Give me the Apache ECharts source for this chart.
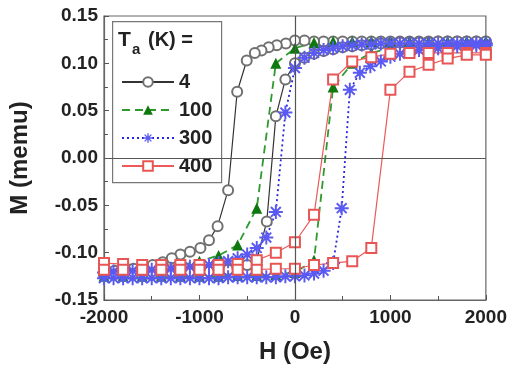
<!DOCTYPE html>
<html>
<head>
<meta charset="utf-8">
<script src="https://cdn.jsdelivr.net/npm/echarts@6/dist/echarts.min.js"></script>
<style>
  html, body { margin: 0; padding: 0; background: #fff; }
  #chart { width: 510px; height: 369px; }
</style>
</head>
<body>
<div id="chart"></div>
<script>
// field values (Oe) and moments (memu), each loop = down branch then up branch
let h4Down = [2000, 1900, 1800, 1700, 1600, 1500, 1400, 1300, 1200, 1100, 1000, 900, 800, 700, 600, 500, 400, 300, 200, 100,
  0, -95, -190, -275, -350, -420, -505, -605, -700, -810, -900, -990, -1100, -1200, -1290, -1385, -1490, -1590, -1690, -1790, -1890, -2000];
let m4Down = [0.123, 0.123, 0.123, 0.123, 0.123, 0.123, 0.123, 0.123, 0.123, 0.123, 0.123, 0.123, 0.123, 0.123, 0.123, 0.123, 0.123, 0.123, 0.123, 0.124,
  0.124, 0.121, 0.119, 0.117, 0.1135, 0.111, 0.103, 0.070, -0.034, -0.072, -0.087, -0.095, -0.099, -0.102, -0.106, -0.110, -0.113, -0.115, -0.117, -0.118, -0.119, -0.120];
let h4Up = [-2000, -1900, -1800, -1700, -1600, -1500, -1400, -1300, -1200, -1100, -1000, -900, -800, -700, -600, -500, -400,
  -295, -200, -100, 0, 100, 200, 300, 400, 500, 600, 700, 800, 900, 1000, 1100, 1200, 1300, 1400, 1500, 1600, 1700, 1800, 1900, 2000];
let m4Up = [-0.123, -0.123, -0.123, -0.123, -0.123, -0.123, -0.122, -0.122, -0.122, -0.121, -0.121, -0.120, -0.119, -0.118, -0.116, -0.113, -0.108,
  -0.067, 0.044, 0.083, 0.100, 0.106, 0.110, 0.113, 0.115, 0.117, 0.118, 0.119, 0.120, 0.121, 0.121, 0.122, 0.122, 0.122, 0.122, 0.123, 0.123, 0.123, 0.123, 0.123, 0.123];

let h100Down = [2000, 1800, 1600, 1400, 1200, 1000, 800, 600, 400, 200, 0, -200, -400, -600, -800, -1000, -1200, -1400, -1600, -1800, -2000];
let m100Down = [0.123, 0.123, 0.123, 0.123, 0.123, 0.123, 0.123, 0.123, 0.123, 0.122, 0.116, 0.100, -0.053, -0.092, -0.103, -0.109, -0.113, -0.116, -0.118, -0.119, -0.120];
let h100Up = [-2000, -1800, -1600, -1400, -1200, -1000, -800, -600, -400, -200, 0, 200, 400, 600, 800, 1000, 1200, 1400, 1600, 1800, 2000];
let m100Up = [-0.125, -0.125, -0.125, -0.125, -0.125, -0.125, -0.125, -0.124, -0.124, -0.123, -0.121, -0.108, 0.075, 0.100, 0.111, 0.116, 0.119, 0.121, 0.122, 0.123, 0.123];

let h300Down = [2000, 1900, 1800, 1700, 1600, 1500, 1400, 1300, 1200, 1100, 1000, 900, 800, 700, 600, 500, 400, 300, 200, 100,
  0, -100, -200, -300, -400, -500, -600, -700, -800, -900, -1000, -1100, -1200, -1300, -1400, -1500, -1600, -1700, -1800, -1900, -2000];
let m300Down = [0.121, 0.121, 0.121, 0.121, 0.121, 0.121, 0.121, 0.121, 0.121, 0.121, 0.121, 0.121, 0.120, 0.120, 0.119, 0.118, 0.116, 0.114, 0.111, 0.106,
  0.095, 0.048, -0.057, -0.084, -0.095, -0.102, -0.106, -0.109, -0.111, -0.113, -0.114, -0.115, -0.116, -0.117, -0.118, -0.118, -0.119, -0.119, -0.120, -0.120, -0.121];
let h300Up = [-2000, -1900, -1800, -1700, -1600, -1500, -1400, -1300, -1200, -1100, -1000, -900, -800, -700, -600, -500, -400, -300, -200, -100,
  0, 100, 200, 300, 400, 490, 575, 680, 790, 900, 1000, 1100, 1200, 1300, 1400, 1500, 1600, 1700, 1800, 1900, 2000];
let m300Up = [-0.127, -0.127, -0.127, -0.127, -0.127, -0.127, -0.127, -0.127, -0.127, -0.127, -0.127, -0.127, -0.127, -0.126, -0.126, -0.126, -0.126, -0.126, -0.126, -0.125,
  -0.125, -0.124, -0.122, -0.119, -0.111, -0.053, 0.072, 0.090, 0.097, 0.102, 0.107, 0.110, 0.112, 0.114, 0.115, 0.116, 0.117, 0.118, 0.118, 0.119, 0.119];

let h400Down = [2000, 1800, 1600, 1400, 1200, 1000, 800, 600, 400, 200, 0, -200, -400, -600, -800, -1000, -1200, -1400, -1600, -1800, -2000];
let m400Down = [0.111, 0.111, 0.111, 0.111, 0.111, 0.110, 0.1065, 0.102, 0.083, -0.060, -0.089, -0.100, -0.108, -0.112, -0.113, -0.113, -0.113, -0.113, -0.113, -0.112, -0.111];
let h400Up = [-2000, -1800, -1600, -1400, -1200, -1000, -800, -600, -400, -200, 0, 200, 400, 600, 800, 1000, 1200, 1400, 1600, 1800, 2000];
let m400Up = [-0.118, -0.118, -0.118, -0.118, -0.118, -0.118, -0.118, -0.118, -0.118, -0.117, -0.117, -0.113, -0.111, -0.109, -0.095, 0.072, 0.091, 0.0985, 0.105, 0.109, 0.109];

let xTicks = [-2000, -1000, 0, 1000, 2000];
let yTicks = [-0.15, -0.10, -0.05, 0.00, 0.05, 0.10, 0.15];

function loop(hd, md, hu, mu) {
  let out = [];
  for (let i = 0; i < hd.length; i++) out.push([hd[i], md[i]]);
  for (let i = 0; i < hu.length; i++) out.push([hu[i], mu[i]]);
  return out;
}

// eight-armed asterisk
let starPath = "path://M-10,-1.4L10,-1.4L10,1.4L-10,1.4Z M-1.4,-10L1.4,-10L1.4,10L-1.4,10Z " +
  "M-6.08,-8.06L8.06,6.08L6.08,8.06L-8.06,-6.08Z M-8.06,6.08L6.08,-8.06L8.06,-6.08L-6.08,8.06Z";

let font = "Liberation Sans, Arial, sans-serif";

var dom = document.getElementById("chart");
var myChart = echarts.init(dom, null, { renderer: "canvas" });

var option = {
  animation: false,
  grid: {
    left: 104, right: 21, top: 16, bottom: 67,
    show: true, borderColor: "#666", borderWidth: 1.2, backgroundColor: "transparent",
  },
  xAxis: {
    type: "value",
    min: -2000, max: 2000, interval: 1000,
    name: "H (Oe)", nameLocation: "middle", nameGap: 40,
    nameTextStyle: { fontFamily: font, fontWeight: "bold", fontSize: 24, color: "#222" },
    axisLine: { show: true, onZero: false, lineStyle: { color: "#666", width: 1.2 } },
    axisTick: { show: true, inside: true, length: 5, lineStyle: { color: "#555" } },
    minorTick: { show: true, splitNumber: 2, length: 4, lineStyle: { color: "#555" } },
    splitLine: { show: false },
    axisLabel: {
      fontFamily: font, fontWeight: "bold", fontSize: 19, color: "#222", margin: 8,
      formatter: function (v) { return xTicks.indexOf(v) >= 0 ? String(v) : ""; },
    },
  },
  yAxis: {
    type: "value",
    min: -0.15, max: 0.15, interval: 0.05,
    name: "M (memu)", nameLocation: "middle", nameGap: 72,
    nameTextStyle: { fontFamily: font, fontWeight: "bold", fontSize: 24, color: "#222" },
    axisLine: { show: true, onZero: false, lineStyle: { color: "#666", width: 1.2 } },
    axisTick: { show: true, inside: true, length: 5, lineStyle: { color: "#555" } },
    minorTick: { show: true, splitNumber: 2, length: 4, lineStyle: { color: "#555" } },
    splitLine: { show: false },
    axisLabel: {
      fontFamily: font, fontWeight: "bold", fontSize: 19, color: "#222", margin: 6,
      formatter: function (v) {
        let t = yTicks.find(function (y) { return Math.abs(y - v) < 1e-9; });
        return t === undefined ? "" : t.toFixed(2);
      },
    },
  },
  legend: {
    orient: "vertical",
    left: 116, top: 67,
    itemWidth: 52, itemHeight: 12, itemGap: 8,
    textStyle: { fontFamily: font, fontWeight: "bold", fontSize: 20, color: "#222", lineHeight: 20 },
    data: ["4", "100", "300", "400"],
  },
  graphic: [
    { type: "rect", left: 112, top: 21, shape: { width: 109, height: 161 },
      style: { fill: "#fff", stroke: "#777", lineWidth: 1.2 }, z: 0 },
    { type: "text", left: 118, top: 30, style: { text: "T", fontFamily: font, fontWeight: "bold", fontSize: 21, fill: "#222" } },
    { type: "text", left: 132, top: 42, style: { text: "a", fontFamily: font, fontWeight: "bold", fontSize: 15, fill: "#222" } },
    { type: "text", left: 148, top: 30, style: { text: "(K) =", fontFamily: font, fontWeight: "bold", fontSize: 20, fill: "#222" } },
  ],
  series: [
    {
      name: "4", type: "line", data: loop(h4Down, m4Down, h4Up, m4Up),
      symbol: "emptyCircle", symbolSize: 10,
      lineStyle: { color: "#333", width: 1.2 },
      itemStyle: { color: "#707070", borderWidth: 1.2 },
      markLine: {
        silent: true, symbol: "none", label: { show: false },
        lineStyle: { color: "#555", width: 1.2, type: "solid" },
        data: [{ xAxis: 0 }, { yAxis: 0 }],
      },
    },
    {
      name: "100", type: "line", data: loop(h100Down, m100Down, h100Up, m100Up),
      symbol: "triangle", symbolSize: 11,
      lineStyle: { color: "#2e9a2e", width: 1.8, type: [8, 5] },
      itemStyle: { color: "#0d780d" },
    },
    {
      name: "300", type: "line", data: loop(h300Down, m300Down, h300Up, m300Up),
      symbol: starPath, symbolSize: 14,
      lineStyle: { color: "#2727e0", width: 1.8, type: [2, 3] },
      itemStyle: { color: "#5a5af2" },
    },
    {
      name: "400", type: "line", data: loop(h400Down, m400Down, h400Up, m400Up),
      symbol: "emptyRect", symbolSize: 10,
      lineStyle: { color: "#ec5a5a", width: 1.2 },
      itemStyle: { color: "#e85555", borderWidth: 1.2 },
    },
  ],
};

myChart.setOption(option);
window.addEventListener("resize", myChart.resize);
</script>
</body>
</html>
